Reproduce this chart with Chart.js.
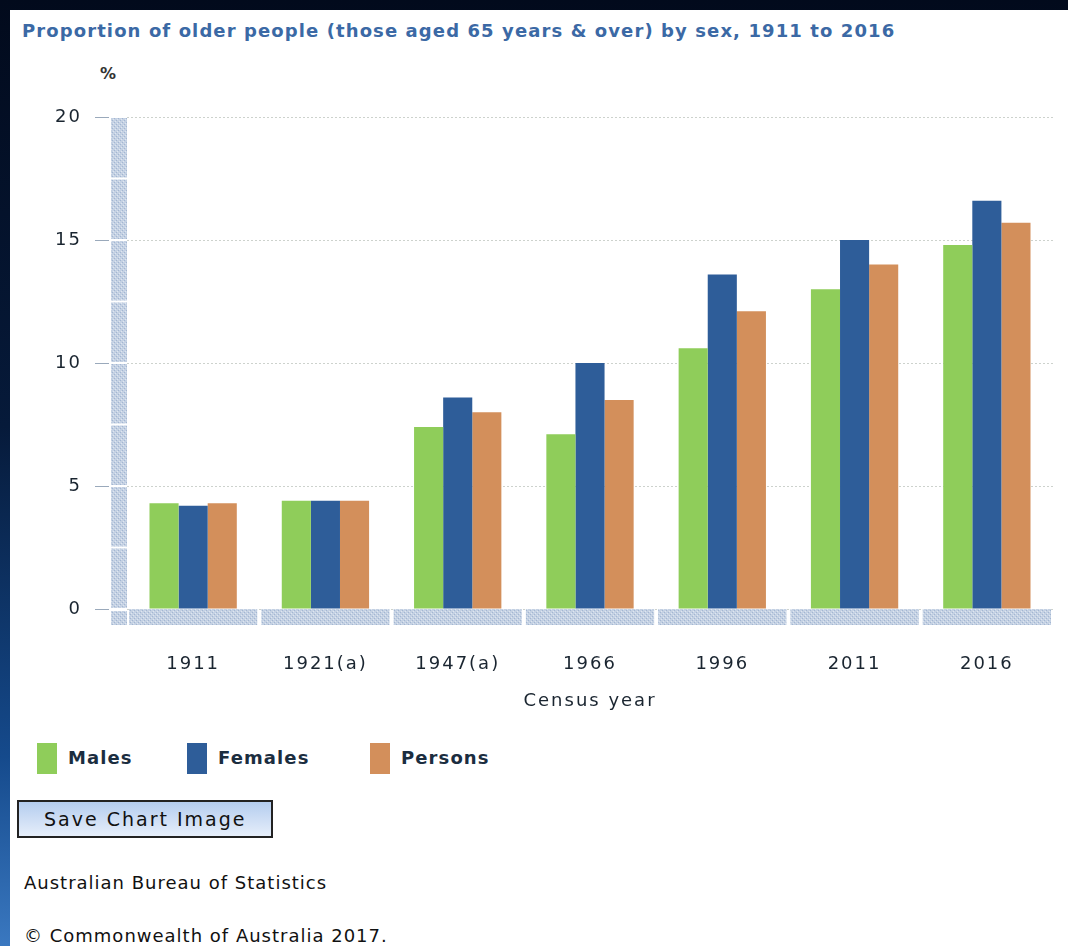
<!DOCTYPE html>
<html>
<head>
<meta charset="utf-8">
<script src="https://cdn.jsdelivr.net/npm/chart.js@4/dist/chart.umd.min.js"></script>
<style>
html, body { margin: 0; padding: 0; }
body {
    width: 1068px; height: 946px; overflow: hidden; position: relative;
    background: linear-gradient(to bottom, #020a1c 0%, #061a3a 45%, #154a8c 80%, #3a78c0 100%);
    font-family: "DejaVu Sans", Verdana, sans-serif;
}
#panel { position: absolute; left: 10px; top: 10px; right: 0; bottom: 0; background: #fff; }
#title {
    position: absolute; left: 22px; top: 20px; font-size: 18px; font-weight: bold;
    color: #3b69a5; white-space: nowrap; line-height: 22px; letter-spacing: 1.1px;
}
#unit { position: absolute; left: 100px; top: 64px; font-size: 16px; font-weight: bold; color: #333; }
#wrap { position: absolute; left: 10px; top: 10px; width: 1050px; height: 720px; }
#legend { position: absolute; left: 37px; top: 743px; height: 31px; }
.item { position: absolute; top: 0; white-space: nowrap; }
.box { position: absolute; left: 0; top: 0; width: 20px; height: 31px; }
.lbl {
    position: absolute; left: 31px; top: 4px; font-size: 18px; font-weight: bold;
    color: #1b2d3f; letter-spacing: 1.1px; line-height: 22px;
}
#save {
    position: absolute; left: 17px; top: 800px; width: 252px; height: 34px;
    border: 2px solid #222; background: linear-gradient(to bottom, #b4cdef, #e6eefa);
    font-size: 19px; color: #111; line-height: 34px; letter-spacing: 2px;
}
#save span { position: absolute; left: 25px; }
.foot { position: absolute; left: 24px; font-size: 18px; color: #111; white-space: nowrap; letter-spacing: 1px; }
</style>
</head>
<body>
<div id="panel"></div>
<div id="title">Proportion of older people (those aged 65 years &amp; over) by sex, 1911 to 2016</div>
<div id="unit">%</div>
<div id="wrap"><canvas id="myChart"></canvas></div>
<div id="legend"></div>
<div id="save"><span>Save Chart Image</span></div>
<div class="foot" style="top:872px">Australian Bureau of Statistics</div>
<div class="foot" style="top:925px">© Commonwealth of Australia 2017.</div>

<script>
const categories = ['1911', '1921(a)', '1947(a)', '1966', '1996', '2011', '2016'];
const males = [4.3, 4.4, 7.4, 7.1, 10.6, 13.0, 14.8];
const females = [4.2, 4.4, 8.6, 10.0, 13.6, 15.0, 16.6];
const persons = [4.3, 4.4, 8.0, 8.5, 12.1, 14.0, 15.7];
const seriesNames = ['Males', 'Females', 'Persons'];
const seriesColors = ['#8fcd5a', '#2e5d99', '#d38f5b'];
const yMin = 0;
const yMax = 20;
const yStep = 5;

// light blue dotted fill used by the axis bars
function makePattern(ctx) {
    const c = document.createElement('canvas');
    c.width = 4; c.height = 4;
    const p = c.getContext('2d');
    p.fillStyle = '#c4d1e3';
    p.fillRect(0, 0, 4, 4);
    p.fillStyle = '#a3b6d2';
    p.fillRect(0, 0, 1, 1);
    p.fillRect(2, 2, 1, 1);
    p.fillStyle = '#dfe6f0';
    p.fillRect(1, 3, 1, 1);
    p.fillRect(3, 1, 1, 1);
    return ctx.createPattern(c, 'repeat');
}

const axisDecor = {
    id: 'axisDecor',
    beforeDraw(chart) {
        chart.ctx.letterSpacing = '2px';
    },
    beforeDatasetsDraw(chart) {
        const {ctx, chartArea, scales: {x, y}} = chart;
        ctx.save();
        ctx.fillStyle = makePattern(ctx);
        const bx = chartArea.left - 16;
        const y0 = y.getPixelForValue(0);
        // left bar, split every half step
        for (let v = yMax; v > yMin; v -= yStep / 2) {
            const t = y.getPixelForValue(v);
            const b = y.getPixelForValue(v - yStep / 2);
            ctx.fillRect(bx, t + 1, 16, b - t - 2);
        }
        ctx.fillRect(bx, y0 + 2, 16, 14);
        // bottom bar, one piece per category
        const w = (chartArea.right - chartArea.left) / categories.length;
        for (let i = 0; i < categories.length; i++) {
            ctx.fillRect(chartArea.left + i * w + 2, y0, w - 4, 16);
        }
        // tick marks
        ctx.strokeStyle = '#9aa9bb';
        ctx.lineWidth = 1;
        y.ticks.forEach(t => {
            const py = Math.round(y.getPixelForValue(t.value)) + 0.5;
            ctx.beginPath();
            ctx.moveTo(bx - 16, py);
            ctx.lineTo(bx - 2, py);
            ctx.stroke();
        });
        ctx.restore();
    }
};

const datasets = [males, females, persons].map((d, i) => ({
    label: seriesNames[i],
    data: d,
    backgroundColor: seriesColors[i],
    borderWidth: 0,
    categoryPercentage: 0.66,
    barPercentage: 1.0
}));

new Chart('myChart', {
    type: 'bar',
    data: { labels: categories, datasets: datasets },
    plugins: [axisDecor],
    options: {
        responsive: true,
        maintainAspectRatio: false,
        animation: false,
        layout: { padding: { top: 107, right: 7, left: 0, bottom: 0 } },
        plugins: { legend: { display: false }, tooltip: { enabled: false } },
        scales: {
            x: {
                grid: { display: false, drawTicks: false },
                border: { display: false },
                ticks: { color: '#1a2530', font: { family: 'DejaVu Sans', size: 18 }, padding: 45, maxRotation: 0 },
                title: { display: true, text: 'Census year', color: '#1a2530', font: { family: 'DejaVu Sans', size: 18 }, padding: { bottom: 18 } },
                afterFit(scale) { scale.height = 121; }
            },
            y: {
                min: yMin, max: yMax,
                grid: { color: '#cdd2cd', drawTicks: false },
                border: { display: false, dash: [2, 2] },
                ticks: { stepSize: yStep, color: '#1a2530', font: { family: 'DejaVu Sans', size: 18 }, padding: 45 },
                afterFit(scale) { scale.width = 117; }
            }
        }
    }
});

// legend
const legend = document.getElementById('legend');
const legendX = [0, 150, 333];
seriesNames.forEach((name, i) => {
    const it = document.createElement('div');
    it.className = 'item';
    it.style.left = legendX[i] + 'px';
    it.innerHTML = '<div class="box" style="background:' + seriesColors[i] + '"></div><div class="lbl">' + name + '</div>';
    legend.appendChild(it);
});
</script>
</body>
</html>
